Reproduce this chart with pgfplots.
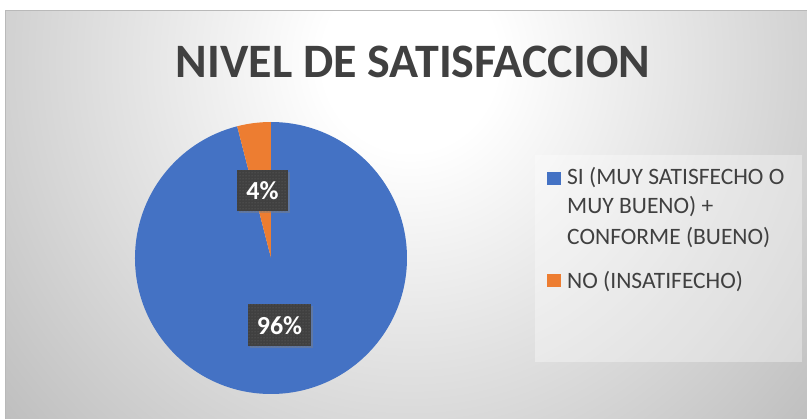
\documentclass[border=0pt]{standalone}
\usepackage{pgfplots}
\pgfplotsset{compat=1.18}
\usepackage{pgfplotstable}
\usepackage{fontspec}
\setmainfont{Carlito}
\usetikzlibrary{shadows,patterns}

\definecolor{siblue}{HTML}{4472C4}
\definecolor{noorange}{HTML}{ED7D31}
\definecolor{txtgray}{HTML}{404040}
\definecolor{lblbox}{HTML}{404040}
\definecolor{bgedge}{HTML}{BDBDBD}

\pgfdeclareradialshading{bgshade}{\pgfpointorigin}{color(0bp)=(white); color(4bp)=(white); color(25bp)=(bgedge); color(50bp)=(bgedge)}

% pie data (percent)
\pgfplotstableread{
label value
SI    96
NO    4
}\piedata

\begin{document}
\begin{tikzpicture}
\pgfplotstablegetelem{0}{value}\of\piedata \let\vsi\pgfplotsretval
\pgfplotstablegetelem{1}{value}\of\piedata \let\vno\pgfplotsretval
\pgfmathsetmacro\tot{\vsi+\vno}
\pgfmathsetmacro\endsi{90-\vsi/\tot*360}
\pgfmathsetmacro\endno{\endsi-\vno/\tot*360}
\pgfmathsetmacro\midsi{(90+\endsi)/2}
\pgfmathsetmacro\midno{(\endsi+\endno)/2}
\begin{axis}[
    scale only axis,
    width=807pt, height=419pt,
    xmin=0, xmax=807, ymin=0, ymax=419,
    hide axis,
    clip=false
]
    \coordinate (bl) at (axis cs:0,0);
    \coordinate (tr) at (axis cs:807,419);
    % chart area background
    \fill[bgedge] (axis cs:5,0) rectangle (axis cs:807,409);
    \shade[shading=bgshade] (axis cs:410,359) ellipse [x radius=545pt, y radius=565pt];
    \fill[white] (axis cs:-700,409) rectangle (axis cs:1500,1000);
    \fill[white] (axis cs:-700,-600) rectangle (axis cs:5,1000);
    \fill[white] (axis cs:807,-600) rectangle (axis cs:1500,1000);
    \fill[white] (axis cs:-700,-600) rectangle (axis cs:1500,0);
    \draw[gray!55, line width=0.8pt] (axis cs:5,0) -- (axis cs:5,409) -- (axis cs:807,409);

    % title
    \node[text=txtgray, font=\bfseries\fontsize{48}{54}\selectfont] at (axis cs:413,357) {NIVEL DE SATISFACCION};

    % pie
    \fill[siblue] (axis cs:271,161) -- ++(90:136pt) arc[start angle=90, end angle=\endsi, radius=136pt] -- cycle;
    \fill[noorange] (axis cs:271,161) -- ++(\endsi:136pt) arc[start angle=\endsi, end angle=\endno, radius=136pt] -- cycle;

    % data labels
    \path (axis cs:271,161) ++(\midsi:68pt) node[fill=lblbox, text=white, inner xsep=9pt, minimum height=42pt,
        font=\bfseries\fontsize{26}{26}\selectfont, drop shadow={shadow xshift=2pt, shadow yshift=-2pt, opacity=0.45},
        postaction={pattern=dots, pattern color=gray!70!lblbox}] {96\%};
    \path (axis cs:271,161) ++(\midno:68pt) node[fill=lblbox, text=white, inner xsep=9pt, minimum height=41pt,
        font=\bfseries\fontsize{26}{26}\selectfont, drop shadow={shadow xshift=2pt, shadow yshift=-2pt, opacity=0.45},
        postaction={pattern=dots, pattern color=gray!70!lblbox}] {4\%};

    % legend
    \fill[white, opacity=0.35] (axis cs:535,57) rectangle (axis cs:802,264);
    \fill[siblue] (axis cs:547,234) rectangle (axis cs:561,247);
    \fill[noorange] (axis cs:547,132) rectangle (axis cs:561,145);
    \begin{scope}[every node/.style={anchor=base west, text=txtgray, inner sep=0pt, font=\fontsize{23.5}{28}\selectfont}]
    \node at (axis cs:567,234) {SI (MUY SATISFECHO O};
    \node at (axis cs:567,205) {MUY BUENO) +};
    \node at (axis cs:567,174) {CONFORME (BUENO)};
    \node at (axis cs:567,130) {NO (INSATIFECHO)};
    \end{scope}
\end{axis}
\pgfresetboundingbox
\useasboundingbox (bl) rectangle (tr);
\end{tikzpicture}
\end{document}
